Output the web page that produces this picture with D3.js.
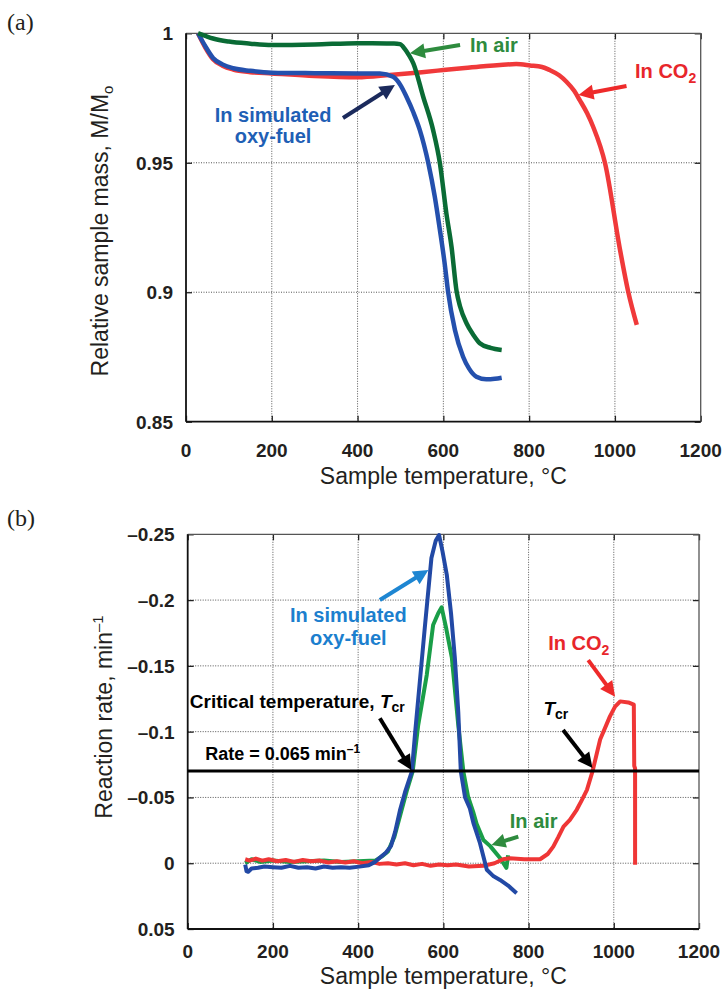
<!DOCTYPE html>
<html>
<head>
<meta charset="utf-8">
<script src="https://cdn.jsdelivr.net/npm/d3@7"></script>
<style>
body { margin:0; background:#fff; }
svg text { font-family: "Liberation Sans", Arial, Helvetica, sans-serif; }
</style>
</head>
<body>
<div id="chart"></div>
<script>
// axis ticks
var xTicks = [0, 200, 400, 600, 800, 1000, 1200];
var xTickLabels = ["0", "200", "400", "600", "800", "1000", "1200"];
var massTicks = [1, 0.95, 0.9, 0.85];
var massTickLabels = ["1", "0.95", "0.9", "0.85"];
var rateTicks = [-0.25, -0.2, -0.15, -0.1, -0.05, 0, 0.05];
var rateTickLabels = ["\u20130.25", "\u20130.2", "\u20130.15", "\u20130.1", "\u20130.05", "0", "0.05"];
var criticalRate = -0.07;

// (a) relative sample mass vs temperature
var airT  = [28, 45, 63, 100, 150, 200, 300, 400, 468, 485, 499, 510, 520, 530, 553, 576, 592, 607, 619, 631, 639, 654, 670, 685, 710, 736];
var airM  = [1.0, 0.999, 0.998, 0.9968, 0.996, 0.9955, 0.9957, 0.9962, 0.9961, 0.9961, 0.9958, 0.9940, 0.9915, 0.9884, 0.9755, 0.9627, 0.9498, 0.9305, 0.9176, 0.9002, 0.8945, 0.888, 0.8835, 0.8803, 0.8785, 0.8777];
var oxyT  = [28, 45, 63, 85, 110, 150, 200, 300, 400, 452, 483, 500, 514, 530, 545, 565, 580, 592, 603, 611, 627, 646, 660, 677, 700, 720, 736];
var oxyM  = [1.0, 0.995, 0.9905, 0.988, 0.9865, 0.9855, 0.9848, 0.9846, 0.9845, 0.9845, 0.9832, 0.9800, 0.9755, 0.9695, 0.9627, 0.9498, 0.9369, 0.924, 0.9112, 0.9002, 0.8854, 0.8751, 0.8705, 0.8674, 0.8664, 0.8666, 0.867];
var co2T  = [28, 45, 63, 85, 110, 150, 200, 300, 400, 475, 550, 600, 650, 700, 732, 770, 802, 830, 848, 870, 887, 905, 918, 935, 949, 977, 1012, 1031, 1051];
var co2M  = [1.0, 0.9945, 0.9900, 0.9875, 0.986, 0.985, 0.9845, 0.9835, 0.983, 0.9839, 0.985, 0.9858, 0.9866, 0.9874, 0.9878, 0.9881, 0.9876, 0.987, 0.9858, 0.9838, 0.9813, 0.9778, 0.9742, 0.9692, 0.964, 0.9498, 0.9163, 0.9002, 0.8874];

// (b) reaction rate vs temperature
var rAirT = [135, 150, 170, 200, 240, 280, 320, 360, 400, 440, 455, 470, 485, 500, 515, 528, 541, 561, 576, 588, 596, 607, 620, 635, 647, 658, 670, 678, 694, 710, 733, 748, 752];
var rAir  = [0.0, -0.003, -0.001, -0.002, -0.001, -0.0015, -0.002, -0.001, -0.0015, -0.002, -0.005, -0.009, -0.02, -0.038, -0.056, -0.0697, -0.105, -0.143, -0.181, -0.19, -0.1945, -0.178, -0.156, -0.105, -0.0697, -0.0507, -0.039, -0.030, -0.0177, -0.013, -0.004, 0.0035, -0.006];
var rOxyT = [135, 138, 142, 150, 165, 180, 200, 220, 240, 260, 280, 300, 320, 340, 360, 380, 403, 425, 440, 450, 465, 477, 487, 498, 510, 526, 534, 557, 572, 582, 590, 598, 608, 618, 627, 635, 641, 651, 662, 671, 686, 702, 718, 733, 752, 772];
var rOxy  = [0.001, 0.006, 0.0065, 0.004, 0.0035, 0.0025, 0.003, 0.0035, 0.002, 0.0035, 0.003, 0.004, 0.0025, 0.0035, 0.003, 0.0035, 0.0026, 0.0015, -0.001, -0.004, -0.008, -0.013, -0.024, -0.040, -0.054, -0.0697, -0.1, -0.181, -0.232, -0.245, -0.2494, -0.237, -0.2194, -0.19, -0.156, -0.115, -0.0697, -0.05, -0.0419, -0.030, -0.0152, 0.005, 0.010, 0.0127, 0.017, 0.0228];
var rCo2T = [135, 145, 160, 175, 190, 210, 230, 250, 270, 290, 310, 330, 350, 370, 390, 410, 430, 450, 470, 490, 510, 530, 550, 570, 590, 610, 630, 660, 694, 720, 740, 756, 790, 827, 845, 858, 870, 882, 897, 913, 925, 937, 950, 968, 991, 1003, 1015, 1034, 1047, 1048, 1050, 1050];
var rCo2  = [-0.003, -0.002, -0.0035, -0.002, -0.003, -0.0015, -0.0025, -0.001, -0.0025, -0.0015, -0.002, -0.0005, -0.0015, -0.0005, -0.0015, 0.0, -0.001, 0.0005, 0.0, 0.001, 0.0, 0.0015, 0.0005, 0.002, 0.001, 0.0015, 0.001, 0.0025, 0.002, 0.0, -0.003, -0.0038, -0.003, -0.003, -0.007, -0.0126, -0.02, -0.0279, -0.033, -0.0406, -0.048, -0.0558, -0.0697, -0.094, -0.1116, -0.119, -0.123, -0.1222, -0.1205, -0.074, -0.072, 0.0012];

var svg = d3.select("#chart").append("svg")
    .attr("width", 723)
    .attr("height", 994);

function arrow(g, x1, y1, x2, y2, color, w, head){
    var dx = x2 - x1, dy = y2 - y1, len = Math.sqrt(dx*dx + dy*dy);
    var ux = dx/len, uy = dy/len;
    var bx = x2 - ux*head, by = y2 - uy*head;
    var hw = head*0.5;
    g.append("line")
        .attr("x1", x1).attr("y1", y1)
        .attr("x2", bx + ux).attr("y2", by + uy)
        .attr("stroke", color)
        .attr("stroke-width", w);
    g.append("polygon")
        .attr("points", [[x2, y2], [bx - uy*hw, by + ux*hw], [bx + uy*hw, by - ux*hw]].map(function(p){ return p.join(","); }).join(" "))
        .attr("fill", color);
}

function panel(cfg){
    var x = d3.scaleLinear().domain([0, 1200]).range([cfg.left, cfg.right]);
    var y = d3.scaleLinear().domain(cfg.yDomain).range([cfg.bottom, cfg.top]);
    var g = svg.append("g");

    // dotted grid
    g.selectAll(".vgrid")
        .data(xTicks.slice(1, -1))
        .enter().append("line")
        .attr("x1", function(d){ return x(d); })
        .attr("x2", function(d){ return x(d); })
        .attr("y1", cfg.top).attr("y2", cfg.bottom)
        .attr("stroke", "#555")
        .attr("stroke-width", 1)
        .attr("stroke-dasharray", "1,1.5");
    g.selectAll(".hgrid")
        .data(cfg.yTicks.slice(1, -1))
        .enter().append("line")
        .attr("y1", function(d){ return y(d); })
        .attr("y2", function(d){ return y(d); })
        .attr("x1", cfg.left).attr("x2", cfg.right)
        .attr("stroke", "#555")
        .attr("stroke-width", 1)
        .attr("stroke-dasharray", "1,1.5");

    // inward ticks on all four sides
    var axes = [
        [d3.axisBottom(x).tickValues(xTicks), "translate(0," + cfg.bottom + ")"],
        [d3.axisTop(x).tickValues(xTicks), "translate(0," + cfg.top + ")"],
        [d3.axisLeft(y).tickValues(cfg.yTicks), "translate(" + cfg.left + ",0)"],
        [d3.axisRight(y).tickValues(cfg.yTicks), "translate(" + cfg.right + ",0)"]
    ];
    axes.forEach(function(a){
        var ax = g.append("g")
            .attr("transform", a[1])
            .call(a[0].tickSize(-6).tickSizeOuter(0).tickFormat(""));
        ax.select(".domain").remove();
        ax.selectAll("line").attr("stroke", "#222").attr("stroke-width", 1.3);
    });

    // frame
    g.append("line").attr("x1", cfg.left).attr("x2", cfg.right).attr("y1", cfg.top).attr("y2", cfg.top)
        .attr("stroke", "#555").attr("stroke-width", 1.3);
    g.append("line").attr("x1", cfg.right).attr("x2", cfg.right).attr("y1", cfg.top).attr("y2", cfg.bottom)
        .attr("stroke", "#555").attr("stroke-width", 1.3);
    g.append("line").attr("x1", cfg.left).attr("x2", cfg.right).attr("y1", cfg.bottom).attr("y2", cfg.bottom)
        .attr("stroke", "#111").attr("stroke-width", 1.8);
    g.append("line").attr("x1", cfg.left).attr("x2", cfg.left).attr("y1", cfg.top).attr("y2", cfg.bottom)
        .attr("stroke", "#111").attr("stroke-width", 1.8);

    // tick labels
    g.selectAll(".xlab")
        .data(xTicks)
        .enter().append("text")
        .attr("x", function(d){ return x(d); })
        .attr("y", cfg.bottom + cfg.xLabelGap)
        .attr("text-anchor", "middle")
        .attr("font-size", "19px")
        .attr("font-weight", "bold")
        .attr("fill", "#231f20")
        .text(function(d, i){ return xTickLabels[i]; });
    g.selectAll(".ylab")
        .data(cfg.yTicks)
        .enter().append("text")
        .attr("x", cfg.left - 13)
        .attr("y", function(d){ return y(d) + 7; })
        .attr("text-anchor", "end")
        .attr("font-size", "19px")
        .attr("font-weight", "bold")
        .attr("fill", "#231f20")
        .text(function(d, i){ return cfg.yTickLabels[i]; });

    // axis titles
    g.append("text")
        .attr("x", (cfg.left + cfg.right)/2)
        .attr("y", cfg.xTitleY)
        .attr("text-anchor", "middle")
        .attr("font-size", "23px")
        .attr("fill", "#231f20")
        .text("Sample temperature, \u00b0C");

    var lines = g.append("g");
    cfg.series.forEach(function(s){
        var pts = s.t.map(function(t, i){ return [t, s.v[i]]; });
        lines.append("path")
            .datum(pts)
            .attr("fill", "none")
            .attr("stroke", s.color)
            .attr("stroke-width", s.width)
            .attr("stroke-linejoin", "round")
            .attr("d", d3.line()
                .curve(cfg.curve)
                .x(function(d){ return x(d[0]); })
                .y(function(d){ return y(d[1]); }));
    });

    return {x: x, y: y, g: g};
}

// ---------- panel (a)
var a = panel({
    left: 186, right: 700.7, top: 33.3, bottom: 421.7,
    yDomain: [0.85, 1], yTicks: massTicks, yTickLabels: massTickLabels,
    xLabelGap: 35, xTitleY: 484, curve: d3.curveMonotoneX,
    series: [
        {t: co2T, v: co2M, color: "#f0393a", width: 4.5},
        {t: oxyT, v: oxyM, color: "#2450ad", width: 4.5},
        {t: airT, v: airM, color: "#0a6b35", width: 4.5}
    ]
});

svg.append("text")
    .attr("x", 7).attr("y", 30)
    .style("font-family", "'Liberation Serif', 'Times New Roman', serif")
    .attr("font-size", "24px")
    .attr("fill", "#231f20")
    .text("(a)");

var aTitle = svg.append("text")
    .attr("transform", "translate(108,231) rotate(-90)")
    .attr("text-anchor", "middle")
    .attr("font-size", "23px")
    .attr("fill", "#231f20");
aTitle.append("tspan").text("Relative sample mass, M/M");
aTitle.append("tspan").attr("font-size", "15px").attr("dy", 5).text("o");

// annotations (a)
a.g.append("text")
    .attr("x", a.x(662)).attr("y", a.y(0.9929))
    .attr("font-size", "20px").attr("font-weight", "bold").attr("fill", "#2e8b3e")
    .text("In air");
arrow(a.g, a.x(639), a.y(0.99548), a.x(522), a.y(0.99227), "#2e8b3e", 4, 15);

var aCo2 = a.g.append("text")
    .attr("x", a.x(1047)).attr("y", a.y(0.98262))
    .attr("font-size", "20px").attr("font-weight", "bold").attr("fill", "#e8262b");
aCo2.append("tspan").text("In CO");
aCo2.append("tspan").attr("font-size", "14px").attr("dy", 5).text("2");
arrow(a.g, a.x(1027), a.y(0.97965), a.x(915), a.y(0.97617), "#ee2a2a", 4, 15);

a.g.append("text")
    .attr("x", a.x(203)).attr("y", a.y(0.96586))
    .attr("text-anchor", "middle")
    .attr("font-size", "20px").attr("font-weight", "bold").attr("fill", "#1f5fb5")
    .text("In simulated");
a.g.append("text")
    .attr("x", a.x(203)).attr("y", a.y(0.95752))
    .attr("text-anchor", "middle")
    .attr("font-size", "20px").attr("font-weight", "bold").attr("fill", "#1f5fb5")
    .text("oxy-fuel");
arrow(a.g, a.x(366), a.y(0.96729), a.x(487), a.y(0.98003), "#1b2a5c", 4, 15);

// ---------- panel (b)
var b = panel({
    left: 187.7, right: 699, top: 534.3, bottom: 929,
    yDomain: [0.05, -0.25], yTicks: rateTicks, yTickLabels: rateTickLabels,
    xLabelGap: 29, xTitleY: 984, curve: d3.curveLinear,
    series: [
        {t: rAirT, v: rAir, color: "#1a9e48", width: 4},
        {t: rCo2T, v: rCo2, color: "#ef3636", width: 4},
        {t: rOxyT, v: rOxy, color: "#2249a5", width: 4}
    ]
});

// critical rate line
b.g.append("line")
    .attr("x1", b.x(0)).attr("x2", b.x(1200))
    .attr("y1", b.y(criticalRate)).attr("y2", b.y(criticalRate))
    .attr("stroke", "#000").attr("stroke-width", 3);

svg.append("text")
    .attr("x", 7).attr("y", 526)
    .style("font-family", "'Liberation Serif', 'Times New Roman', serif")
    .attr("font-size", "24px")
    .attr("fill", "#231f20")
    .text("(b)");

var bTitle = svg.append("text")
    .attr("transform", "translate(112,717) rotate(-90)")
    .attr("text-anchor", "middle")
    .attr("font-size", "23px")
    .attr("fill", "#231f20");
bTitle.append("tspan").text("Reaction rate, min");
bTitle.append("tspan").attr("font-size", "15px").attr("dy", -9).text("\u20131");

// annotations (b)
b.g.append("text")
    .attr("x", b.x(377)).attr("y", b.y(-0.1836))
    .attr("text-anchor", "middle")
    .attr("font-size", "20px").attr("font-weight", "bold").attr("fill", "#1c7fce")
    .text("In simulated");
b.g.append("text")
    .attr("x", b.x(377)).attr("y", b.y(-0.1659))
    .attr("text-anchor", "middle")
    .attr("font-size", "20px").attr("font-weight", "bold").attr("fill", "#1c7fce")
    .text("oxy-fuel");
arrow(b.g, b.x(451), b.y(-0.2001), b.x(565), b.y(-0.2229), "#1e86d2", 4, 15);

var bCo2 = b.g.append("text")
    .attr("x", b.x(846)).attr("y", b.y(-0.1621))
    .attr("font-size", "20px").attr("font-weight", "bold").attr("fill", "#e8262b");
bCo2.append("tspan").text("In CO");
bCo2.append("tspan").attr("font-size", "14px").attr("dy", 5).text("2");
arrow(b.g, b.x(940), b.y(-0.1544), b.x(1003), b.y(-0.1266), "#ee2a2a", 4, 15);

var crit = b.g.append("text")
    .attr("x", b.x(5)).attr("y", b.y(-0.1178))
    .attr("font-size", "19px").attr("font-weight", "bold").attr("fill", "#000");
crit.append("tspan").text("Critical temperature, ");
crit.append("tspan").attr("font-style", "italic").text("T");
crit.append("tspan").attr("font-size", "14px").attr("dy", 4).text("cr");
arrow(b.g, b.x(451), b.y(-0.1102), b.x(525), b.y(-0.0709), "#000", 4, 15);

var tcr = b.g.append("text")
    .attr("x", b.x(835)).attr("y", b.y(-0.1127))
    .attr("font-size", "19px").attr("font-weight", "bold").attr("fill", "#000");
tcr.append("tspan").attr("font-style", "italic").text("T");
tcr.append("tspan").attr("font-size", "14px").attr("dy", 4).text("cr");
arrow(b.g, b.x(881), b.y(-0.1013), b.x(950), b.y(-0.0724), "#000", 4, 15);

var rate = b.g.append("text")
    .attr("x", b.x(41)).attr("y", b.y(-0.0786))
    .attr("font-size", "18px").attr("font-weight", "bold").attr("fill", "#000");
rate.append("tspan").text("Rate = 0.065 min");
rate.append("tspan").attr("font-size", "12px").attr("dy", -7).text("\u20131");

b.g.append("text")
    .attr("x", b.x(756)).attr("y", b.y(-0.0266))
    .attr("font-size", "20px").attr("font-weight", "bold").attr("fill", "#2e8b3e")
    .text("In air");
arrow(b.g, b.x(776), b.y(-0.0202), b.x(713), b.y(-0.0139), "#2e8b3e", 4, 14);
</script>
</body>
</html>
